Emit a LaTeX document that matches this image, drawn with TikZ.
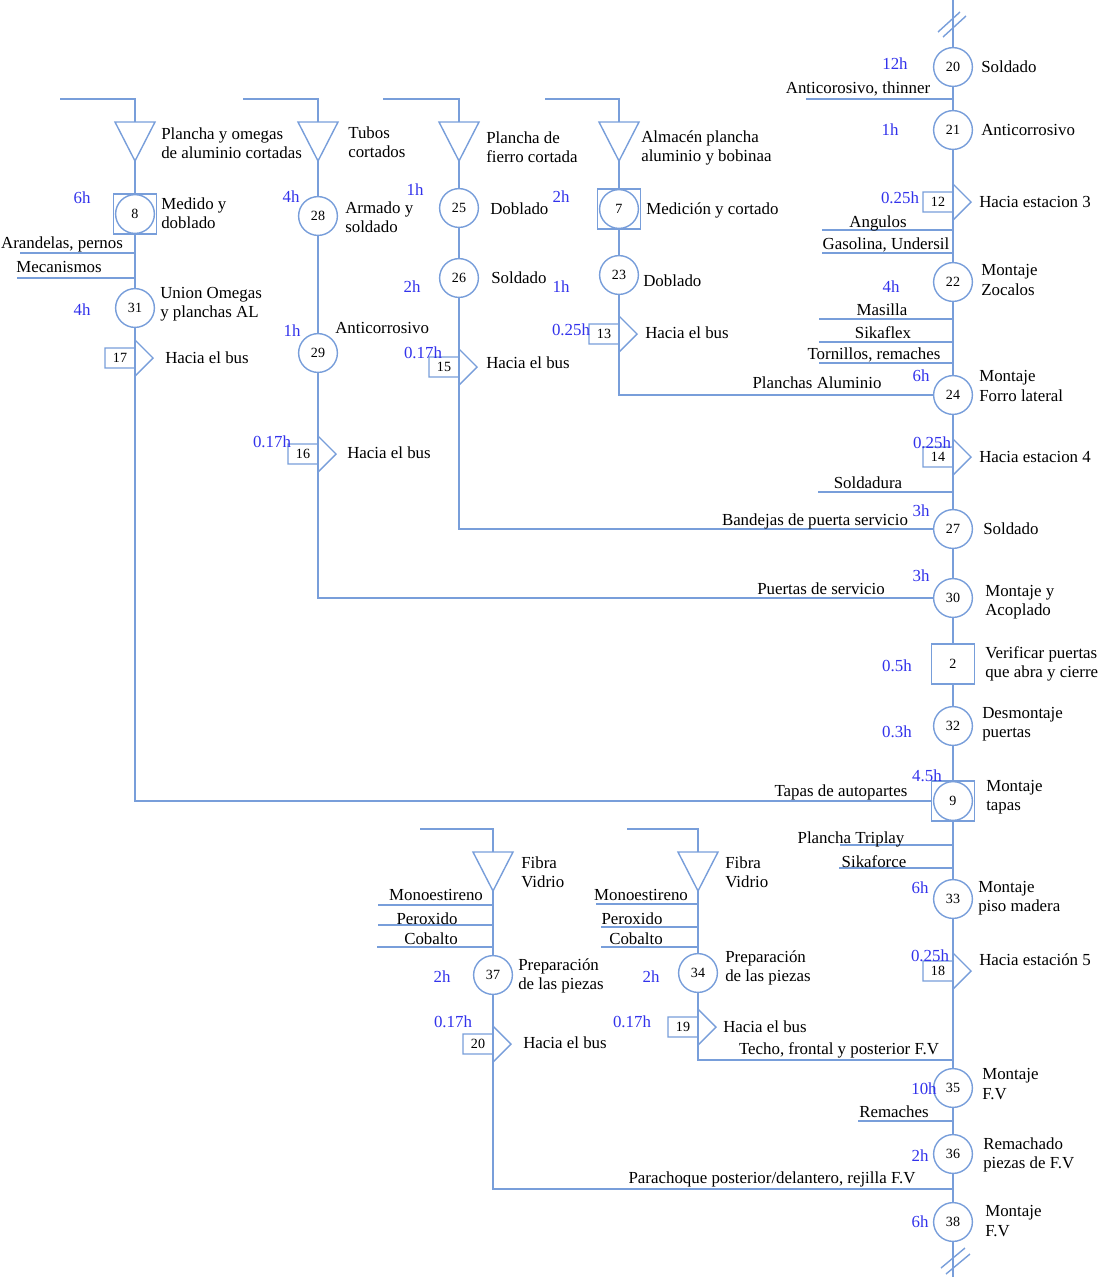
\documentclass[tikz,border=0pt]{standalone}
\usepackage{fontspec}
\setmainfont{Liberation Serif}
\definecolor{linea}{RGB}{120,158,218}
\definecolor{azul}{RGB}{50,50,235}
\tikzset{
  flujo/.style={draw=linea, line width=1pt},
  oper/.style={circle, draw=linea, line width=1pt, fill=white, minimum size=0.97cm, inner sep=0pt, font=\fontsize{10}{12}\selectfont},
  insp/.style={rectangle, draw=linea, line width=1pt, minimum width=1.08cm, minimum height=1cm, inner sep=0pt, font=\fontsize{10}{12}\selectfont},
  desc/.style={anchor=west, align=left, inner sep=0pt},
  hora/.style={text=azul, inner sep=0pt},
  ent/.style={inner sep=0pt},
}
\begin{document}
\begin{tikzpicture}[x=0.025cm, y=-0.025cm, font=\fontsize{12}{13.8}\selectfont]
\useasboundingbox (0,0) rectangle (1108,1277);

\foreach \n/\x/\y in {20/953/67, 21/953/130, 22/953/282, 24/953/395, 27/953/529, 30/953/598, 32/953/726, 9/953/801, 33/953/899, 35/953/1088, 36/953/1154, 38/953/1222, 8/135/214, 31/135/308, 28/318/216, 29/318/353, 25/459/208, 26/459/278, 7/619/209, 23/619/275, 37/493/975, 34/698/973}
{
\node[oper] (c\n) at (\x,\y) {\n};
}

\node[insp] (q8) at (135,214) {};
\node[insp] (q7) at (619,209) {};
\node[insp] (q9) at (953,801) {};
\node[insp] (q2) at (953,664) {2};

\foreach \nm/\x/\yt/\xs in {sA/135/122/60, sB/318/122/243, sC/459/122/383, sD/619/122/545, sF/493/852/420, sG/698/852/627}
{
\coordinate (\nm) at (\x,\yt);
\draw[flujo] (\xs,\yt-23) -| (\nm);
\draw[flujo] (\nm) ++(-20,0) -- ++(40,0) -- ++(-20,39) -- cycle;
}

\foreach \n/\x/\y in {17/135/358, 16/318/454, 15/459/367, 13/619/334, 12/953/202, 14/953/457, 20/493/1044, 19/698/1027, 18/953/971}
{
\coordinate (t\n) at (\x,\y);
\draw[flujo, fill=white] (t\n) ++(0,-10) -- ++(-30,0) -- ++(0,20) -- ++(30,0) -- ++(0,8) -- ++(18,-18) -- ++(-18,-18) -- cycle;
\node[inner sep=0pt, font=\fontsize{10}{12}\selectfont] (nt\n) at (\x-15,\y) {\n};
}

\coordinate (jF) at (953,1189);
\coordinate (jG) at (953,1060);

\draw[flujo] (953,0) -- (c20) -- (c21) -- (t12) -- (c22) -- (c24) -- (t14) -- (c27) -- (c30) -- (q2) -- (c32) -- (q9) -- (c33) -- (t18) -- (c35) -- (c36) -- (c38) -- (953,1277);
\draw[flujo] (sA) ++(0,39) -- (q8) -- (c31) -- (t17) |- (q9);
\draw[flujo] (sB) ++(0,39) -- (c28) -- (c29) -- (t16) |- (c30);
\draw[flujo] (sC) ++(0,39) -- (c25) -- (c26) -- (t15) |- (c27);
\draw[flujo] (sD) ++(0,39) -- (q7) -- (c23) -- (t13) |- (c24);
\draw[flujo] (sF) ++(0,39) -- (c37) -- (t20) |- (jF);
\draw[flujo] (sG) ++(0,39) -- (c34) -- (t19) |- (jG);

\draw[flujo] (938,32) -- (960,12);
\draw[flujo] (943,37) -- (966,16);
\draw[flujo] (941,1268) -- (965,1248);
\draw[flujo] (946,1274) -- (970,1254);

\foreach \xa/\y/\xb in {806/99/953, 822/230/953, 822/253/953, 819/319/953, 819/342/953, 819/363/953, 818/492/953, 840/845/953, 839/868/953, 858/1121/953, 20/253/135, 17/278/135, 378/905/493, 378/925/493, 377/947/493, 596/904/698, 601/927/698, 601/947/698}
{
\draw[flujo] (\xa,\y) -- (\xb,\y);
}

\foreach \nm/\x/\y/\txt in {e1/858/89/{Anticorosivo, thinner}, e2/878/223/Angulos, e3/886/245/{Gasolina, Undersil}, e4/882/310/Masilla, e5/883/333/Sikaflex, e6/874/355/{Tornillos, remaches}, e7/868/483/Soldadura, e8/851/839/{Plancha Triplay}, e9/874/862/Sikaforce, e10/894/1112/Remaches, e11/62/244/{Arandelas, pernos}, e12/59/267/Mecanismos, e13/436/895/Monoestireno, e14/427/919/Peroxido, e15/431/939/Cobalto, e16/641/895/Monoestireno, e17/632/919/Peroxido, e18/636/939/Cobalto, l1/817/383/{Planchas Aluminio}, l2/815/521/{Bandejas de puerta servicio}, l3/821/589/{Puertas de servicio}, l4/841/792/{Tapas de autopartes}, l5/839/1050/{Techo, frontal y posterior F.V}}
{
\node[ent] (\nm) at (\x,\y) {\txt};
}
\node[ent] (l6) at (772,1179) {Parachoque posterior/delantero, rejilla F.V};

\foreach \nm/\x/\y/\txt in {h20/895/64/12h, h21/890/130/1h, ht12/900/198/0.25h, h22/891/287/4h, h24/921/376/6h, ht14/932/443/0.25h, h27/921/511/3h, h30/921/576/3h, h2/897/666/0.5h, h32/897/732/0.3h, h9/927/776/4.5h, h33/920/888/6h, ht18/930/956/0.25h, h35/924/1089/10h, h36/920/1156/2h, h38/920/1222/6h, h8/82/198/6h, h31/82/310/4h, h28/291/197/4h, h29/292/331/1h, ht16/272/442/0.17h, h25/415/190/1h, h26/412/287/2h, ht15/423/353/0.17h, h7/561/197/2h, h23/561/287/1h, ht13/571/330/0.25h, h37/442/977/2h, ht20/453/1022/0.17h, h34/651/977/2h, ht19/632/1022/0.17h}
{
\node[hora] (\nm) at (\x,\y) {\txt};
}

\foreach \nm/\x/\y/\txt in {dA1/161/143/{Plancha y omegas\\de aluminio cortadas}, d8/161/213/{Medido y\\doblado}, d31/160/304/{Union Omegas\\y planchas AL}, dt17/165/358/{Hacia el bus}, dB1/348/142/{Tubos\\cortados}, d28/345/217/{Armado y\\soldado}, d29/335/328/Anticorrosivo, dt16/347/453/{Hacia el bus}, dC1/486/147/{Plancha de\\fierro cortada}, d25/490/209/Doblado, d26/491/278/Soldado, dt15/486/363/{Hacia el bus}, dD1/641/148/{Almacén plancha\\aluminio y bobinaa}, d7/646/210/{Medición y cortado}, d23/643/281/Doblado, dt13/645/333/{Hacia el bus}, d20/981/67/Soldado, d21/981/130/Anticorrosivo, dt12/979/202/{Hacia estacion 3}, d22/981/280/{Montaje\\Zocalos}, d24/979/386/{Montaje\\Forro lateral}, dt14/979/457/{Hacia estacion 4}, d27/983/529/Soldado, d30/985/602/{Montaje y\\Acoplado}, d2/985/664/{Verificar puertas\\que abra y cierre}, d32/982/724/{Desmontaje\\puertas}, d9/986/797/{Montaje\\tapas}, d33/978/898/{Montaje\\piso madera}, dt18/979/960/{Hacia estación 5}, d35/982/1084/{Montaje\\F.V}, d36/983/1155/{Remachado\\piezas de F.V}, d38/985/1221/{Montaje\\F.V}, dF1/521/872/{Fibra\\Vidrio}, d37/518/976/{Preparación\\de las piezas}, dt20/523/1043/{Hacia el bus}, dG1/725/872/{Fibra\\Vidrio}, d34/725/968/{Preparación\\de las piezas}, dt19/723/1027/{Hacia el bus}}
{
\node[desc] (\nm) at (\x,\y) {\txt};
}

\end{tikzpicture}
\end{document}
